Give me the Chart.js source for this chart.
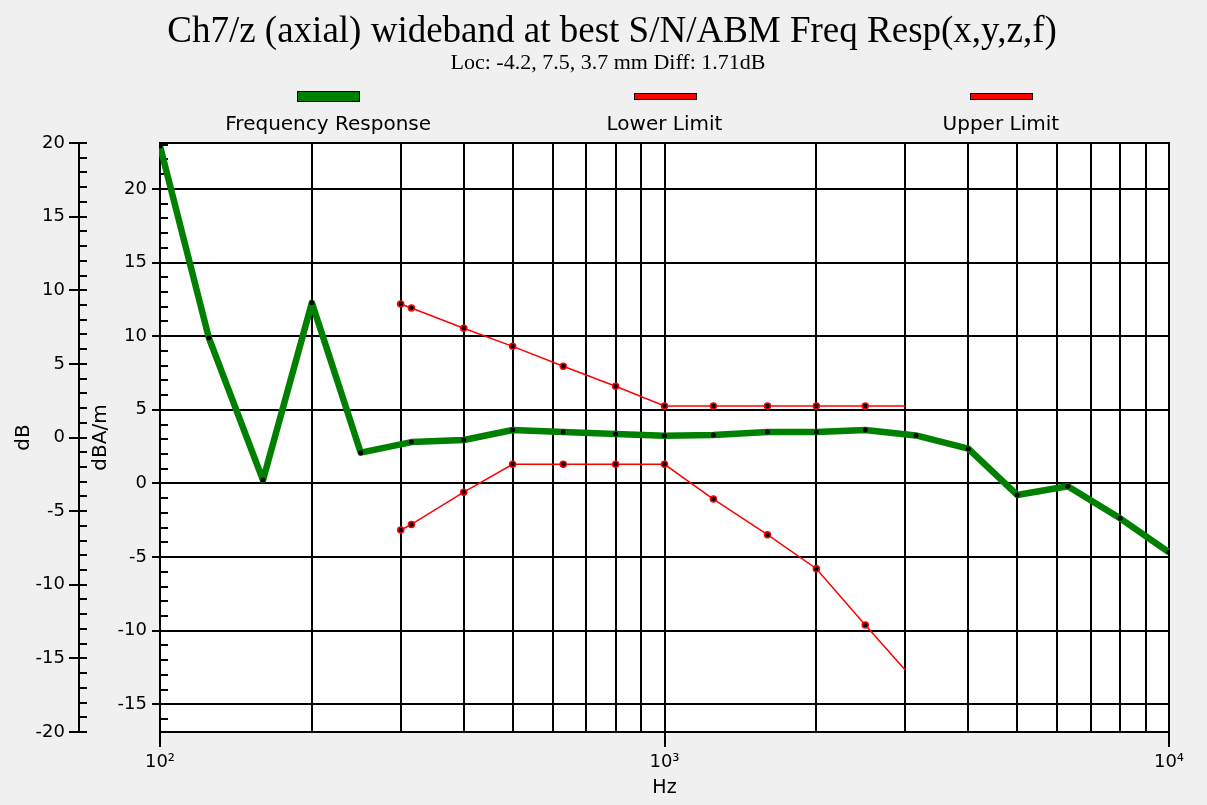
<!DOCTYPE html>
<html>
<head>
<meta charset="utf-8">
<title>Ch7/z frequency response</title>
<script src="https://cdn.jsdelivr.net/npm/chart.js@4.4.1/dist/chart.umd.min.js"></script>
<style>
  html, body { margin: 0; padding: 0; background: #f0f0f0; }
  #wrap { width: 1207px; height: 805px; }
</style>
</head>
<body>
<div id="wrap"><canvas id="c" width="1207" height="805"></canvas></div>
<script>
// Third-octave centre frequencies of the measured response (Hz)
const respFreq = [100, 125, 160, 200, 250, 315, 400, 500, 630, 800, 1000,
                  1250, 1600, 2000, 2500, 3150, 4000, 5000, 6300, 8000, 10000];
// Frequency response (dB)
const respDb = [19.8, 6.76, -2.89, 9.15, -1.03, -0.31, -0.17, 0.51, 0.37, 0.24, 0.12,
                0.17, 0.37, 0.37, 0.51, 0.14, -0.76, -3.90, -3.31, -5.49, -7.80];

// Tolerance mask (Hz / dB)
const limitFreq = [300, 315, 400, 500, 630, 800, 1000, 1250, 1600, 2000, 2500, 3000];
const lowerDb = [-6.28, -5.90, -3.71, -1.82, -1.82, -1.82, -1.82, -4.18, -6.60, -8.91, -12.73, -15.79];
const upperDb = [9.07, 8.79, 7.42, 6.19, 4.84, 3.48, 2.14, 2.14, 2.14, 2.14, 2.14, 2.14];

// Axis ticks and labels
const dbTicks = [-20, -15, -10, -5, 0, 5, 10, 15, 20];
const dbaTicks = [-15, -10, -5, 0, 5, 10, 15, 20];
const dbaOffset = 3.12;                 // dBA/m reading = dB reading + offset
const decadeValues = [100, 1000, 10000];
const decadeText = ['10²', '10³', '10⁴'];

const titleText = 'Ch7/z (axial) wideband at best S/N/ABM Freq Resp(x,y,z,f)';
const subtitleText = 'Loc: -4.2, 7.5, 3.7 mm Diff: 1.71dB';

const GREEN = '#008000';
const RED = '#ff0000';
const SANS = 'DejaVu Sans';
const SERIF = 'Liberation Serif';

const toPoints = (xs, ys) => xs.map((x, i) => ({ x, y: ys[i] }));
const isDecade = v => Math.abs(Math.log10(v) - Math.round(Math.log10(v))) < 1e-9;
const lastLimit = limitFreq.length - 1;

// Frame, minor ticks, title block and legend
const decorations = {
  id: 'decorations',
  beforeDraw(chart) {
    const { ctx, chartArea: a } = chart;
    ctx.save();
    ctx.fillStyle = '#ffffff';
    ctx.fillRect(a.left, a.top, a.right - a.left, a.bottom - a.top);
    ctx.restore();
  },
  beforeDatasetsDraw(chart) {
    const { ctx, chartArea: a } = chart;
    ctx.save();
    ctx.strokeStyle = '#000';
    ctx.lineWidth = 2;
    // top and right edges of the plot frame
    ctx.beginPath();
    ctx.moveTo(a.left, a.top);
    ctx.lineTo(a.right, a.top);
    ctx.lineTo(a.right, a.bottom);
    ctx.stroke();
    // 1 dB minor ticks on both vertical axes
    ['y', 'yA'].forEach(id => {
      const s = chart.scales[id];
      const x0 = s.right;
      ctx.beginPath();
      for (let v = Math.ceil(s.min); v <= Math.floor(s.max); v++) {
        const y = Math.round(s.getPixelForValue(v));
        ctx.moveTo(x0, y);
        ctx.lineTo(x0 + 8, y);
      }
      ctx.stroke();
    });
    ctx.restore();
  },
  afterDraw(chart) {
    const { ctx, chartArea: a } = chart;
    ctx.save();
    ctx.fillStyle = '#000';
    ctx.textAlign = 'center';
    ctx.textBaseline = 'middle';
    ctx.font = `37px "${SERIF}"`;
    ctx.fillText(titleText, 612, 32);
    ctx.font = `22px "${SERIF}"`;
    ctx.fillText(subtitleText, 608, 63);

    // legend: swatch above label, one item per third of the plot width
    const w = (a.right - a.left) / 3;
    chart.data.datasets.forEach((d, i) => {
      const cx = a.left + (i + 0.5) * w;
      const h = d.borderWidth >= 4 ? 10 : 6;
      const sy = a.top - 47;
      ctx.fillStyle = d.borderColor;
      ctx.fillRect(Math.round(cx - 31), Math.round(sy - h / 2), 62, h);
      ctx.strokeStyle = '#000';
      ctx.lineWidth = 1;
      ctx.strokeRect(Math.round(cx - 31) + 0.5, Math.round(sy - h / 2) + 0.5, 62, h);
      ctx.fillStyle = '#000';
      ctx.font = `20px "${SANS}"`;
      ctx.fillText(d.label, cx, a.top - 18);
    });
    ctx.restore();
  }
};

const tickFont = { family: SANS, size: 18 };
const axisTitleFont = { family: SANS, size: 20 };

new Chart(document.getElementById('c'), {
  type: 'line',
  data: {
    datasets: [
      {
        label: 'Frequency Response',
        data: toPoints(respFreq, respDb),
        borderColor: GREEN,
        backgroundColor: GREEN,
        borderWidth: 6.5,
        borderJoinStyle: 'round',
        pointRadius: 2.5,
        pointBackgroundColor: '#000',
        pointBorderWidth: 0,
        yAxisID: 'y',
        clip: 1
      },
      {
        label: 'Lower Limit',
        data: toPoints(limitFreq, lowerDb),
        borderColor: RED,
        backgroundColor: RED,
        borderWidth: 1.5,
        pointRadius: c => (c.dataIndex === lastLimit ? 0 : 3),
        pointBackgroundColor: '#000',
        pointBorderColor: RED,
        pointBorderWidth: 1.5,
        yAxisID: 'y'
      },
      {
        label: 'Upper Limit',
        data: toPoints(limitFreq, upperDb),
        borderColor: RED,
        backgroundColor: RED,
        borderWidth: 1.5,
        pointRadius: c => (c.dataIndex === lastLimit ? 0 : 3),
        pointBackgroundColor: '#000',
        pointBorderColor: RED,
        pointBorderWidth: 1.5,
        yAxisID: 'y'
      }
    ]
  },
  options: {
    responsive: false,
    animation: false,
    devicePixelRatio: 1,
    layout: { padding: { top: 143, left: 12, right: 38, bottom: 4 } },
    elements: { line: { tension: 0 } },
    plugins: {
      legend: { display: false },
      tooltip: { enabled: false },
      title: { display: false }
    },
    scales: {
      x: {
        type: 'logarithmic',
        position: 'bottom',
        min: 100,
        max: 10000,
        afterBuildTicks: s => {
          const t = [];
          for (let d = 100; d < 10000; d *= 10) {
            for (let k = 1; k < 10; k++) t.push({ value: d * k });
          }
          t.push({ value: 10000 });
          s.ticks = t;
        },
        afterFit: s => { s.height = 69; },
        grid: {
          color: '#000',
          lineWidth: 2,
          tickLength: 15,
          tickColor: c => (c.tick && isDecade(c.tick.value) ? '#000' : 'rgba(0,0,0,0)')
        },
        border: { display: true, color: '#000', width: 2 },
        ticks: {
          autoSkip: false,
          maxRotation: 0,
          padding: 5,
          color: '#000',
          font: tickFont,
          callback: v => {
            const i = decadeValues.findIndex(d => Math.abs(d - v) < 1e-6);
            return i >= 0 ? decadeText[i] : '';
          }
        },
        title: {
          display: true,
          text: 'Hz',
          color: '#000',
          font: { family: SANS, size: 19 },
          padding: { top: 0, bottom: 2 }
        }
      },
      y: {
        position: 'left',
        weight: 10,
        min: -20,
        max: 20,
        afterBuildTicks: s => { s.ticks = dbTicks.map(v => ({ value: v })); },
        afterFit: s => { s.width = 67; },
        grid: { drawOnChartArea: false, color: '#000', lineWidth: 2, tickLength: 10 },
        border: { display: true, color: '#000', width: 2 },
        ticks: { padding: 4, color: '#000', font: tickFont, callback: v => String(v) },
        title: {
          display: true,
          text: 'dB',
          color: '#000',
          font: axisTitleFont,
          padding: { top: 0, bottom: 0 }
        }
      },
      yA: {
        position: 'left',
        weight: 0,
        min: -20 + dbaOffset,
        max: 20 + dbaOffset,
        afterBuildTicks: s => { s.ticks = dbaTicks.map(v => ({ value: v })); },
        afterFit: s => { s.width = 81; },
        grid: { drawOnChartArea: true, color: '#000', lineWidth: 2, tickLength: 8 },
        border: { display: true, color: '#000', width: 2 },
        ticks: { padding: 5, color: '#000', font: tickFont, callback: v => String(v) },
        title: {
          display: true,
          text: 'dBA/m',
          color: '#000',
          font: axisTitleFont,
          padding: { top: 10, bottom: 0 }
        }
      }
    }
  },
  plugins: [decorations]
});
</script>
</body>
</html>
